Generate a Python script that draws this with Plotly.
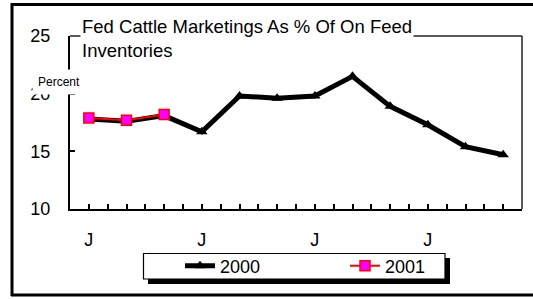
import plotly.graph_objects as go

months = list(range(12))
tick_positions = [i * 0.5 for i in range(23)]
tick_labels = ["J" if (p in (0, 3, 6, 9)) else "" for p in tick_positions]
y_ticks = [10, 15, 20, 25]

series_2000 = [17.8, 17.6, 18.1, 16.7, 19.8, 19.6, 19.8, 21.5, 18.9, 17.3, 15.4, 14.7]
series_2001 = [17.9, 17.7, 18.2]

FONT = "Liberation Sans, Arial, sans-serif"

W, H = 533, 299
L, R, T, B = 70, 11, 36, 90
PW, PH = W - L - R, H - T - B


def px_x(p):
    return (p - L) / PW


def px_y(p):
    return (H - B - p) / PH


fig = go.Figure()
fig.add_trace(go.Scatter(
    x=months, y=series_2000, name="2000", mode="lines+markers",
    line=dict(color="black", width=5),
    marker=dict(symbol="triangle-up", size=10, color="black"),
))
fig.add_trace(go.Scatter(
    x=months[:len(series_2001)], y=series_2001, name="2001", mode="lines+markers",
    line=dict(color="red", width=2),
    marker=dict(symbol="square", size=10, color="#ff00ff", line=dict(color="red", width=1.5)),
))

shapes = [
    # plot frame top & right
    dict(type="line", xref="paper", yref="paper", x0=0, x1=1, y0=1, y1=1,
         line=dict(color="#222", width=1.5)),
    dict(type="line", xref="paper", yref="paper", x0=1, x1=1, y0=0, y1=1,
         line=dict(color="#222", width=1.5)),
    # outer frame
    dict(type="line", xref="paper", yref="paper", x0=px_x(11), x1=px_x(545), y0=px_y(4.5), y1=px_y(4.5),
         line=dict(color="black", width=3)),
    dict(type="line", xref="paper", yref="paper", x0=px_x(12), x1=px_x(12), y0=px_y(3), y1=px_y(296),
         line=dict(color="black", width=3)),
    dict(type="line", xref="paper", yref="paper", x0=px_x(11), x1=px_x(545), y0=px_y(295), y1=px_y(295),
         line=dict(color="black", width=3)),
    # legend shadow and box
    dict(type="rect", xref="paper", yref="paper", x0=px_x(148), x1=px_x(450), y0=px_y(258), y1=px_y(284),
         fillcolor="black", line=dict(width=0)),
    dict(type="rect", xref="paper", yref="paper", x0=px_x(143.5), x1=px_x(445), y0=px_y(253.5), y1=px_y(279),
         fillcolor="white", line=dict(color="black", width=1.2)),
]

annotations = [
    dict(text="Fed Cattle Marketings As % Of On Feed<br>Inventories", xref="paper", yref="paper",
         x=px_x(80), y=px_y(14), xanchor="left", yanchor="top", align="left", showarrow=False,
         bgcolor="white", borderpad=1, font=dict(family=FONT, size=18.5, color="black")),
    dict(text="Percent", xref="paper", yref="paper", x=px_x(59), y=px_y(82),
         xanchor="center", yanchor="middle", showarrow=False, bgcolor="white", borderpad=5,
         font=dict(family=FONT, size=12, color="black")),
]

fig.update_layout(
    width=W, height=H, autosize=False,
    margin=dict(l=L, r=R, t=T, b=B, pad=0),
    paper_bgcolor="white", plot_bgcolor="white",
    font=dict(family=FONT, size=18, color="black"),
    showlegend=True,
    legend=dict(orientation="h", x=px_x(180), y=px_y(266), xanchor="left", yanchor="middle",
                bgcolor="rgba(0,0,0,0)", borderwidth=0,
                entrywidth=120, entrywidthmode="pixels",
                font=dict(family=FONT, size=18, color="black")),
    shapes=shapes, annotations=annotations,
    xaxis=dict(range=[-0.5, 11.5], tickmode="array", tickvals=tick_positions, ticktext=tick_labels,
               ticks="inside", ticklen=5, tickwidth=1.5, tickcolor="black",
               showline=True, linecolor="black", linewidth=2, showgrid=False, zeroline=False,
               ticklabelstandoff=13, tickfont=dict(family=FONT, size=18)),
    yaxis=dict(range=[10, 25], tickvals=y_ticks, ticks="inside", ticklen=5, tickwidth=1.5,
               tickcolor="black", showline=True, linecolor="black", linewidth=2,
               showgrid=False, zeroline=False, ticklabelstandoff=14,
               tickfont=dict(family=FONT, size=18)),
)

fig.write_html("out.html", config={"displayModeBar": False},
               post_script="document.body.style.margin='0';document.body.style.overflow='hidden';")
